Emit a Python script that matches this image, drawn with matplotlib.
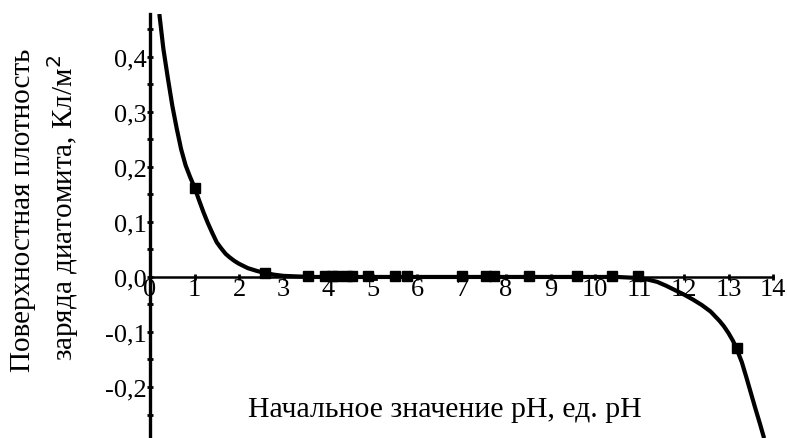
import numpy as np
import matplotlib.pyplot as plt
from matplotlib.ticker import FuncFormatter, MultipleLocator

plt.rcParams['font.family'] = ['Liberation Serif', 'DejaVu Serif']

# fitted curve (pH, charge density)
curve_ph = [0.21, 0.3, 0.4, 0.5, 0.6, 0.7, 0.8, 0.9, 1.0, 1.1, 1.2, 1.3,
            1.4, 1.5, 1.6, 1.7, 1.8, 1.9, 2.0, 2.2, 2.4, 2.6, 2.8, 3.0, 3.3,
            3.7, 5.0, 7.0, 9.0, 10.5, 11.0, 11.2, 11.4, 11.6, 11.8, 12.0,
            12.2, 12.4, 12.6, 12.8, 12.9, 13.0, 13.1, 13.18, 13.3, 13.4, 13.5,
            13.6, 13.7, 13.8]
curve_q = [0.478, 0.415, 0.362, 0.312, 0.27, 0.232, 0.203, 0.182, 0.163,
           0.14, 0.118, 0.098, 0.08, 0.063, 0.052, 0.042, 0.035, 0.029,
           0.024, 0.016, 0.011, 0.007, 0.004, 0.002, 0.001, 0.0, 0.0, 0.0,
           0.0, 0.0, -0.002, -0.005, -0.009, -0.016, -0.024, -0.032, -0.041,
           -0.051, -0.063, -0.08, -0.09, -0.102, -0.116, -0.13, -0.155,
           -0.182, -0.21, -0.238, -0.265, -0.293]

# measured points
meas_ph = [1.01, 2.58, 3.56, 3.93, 4.08, 4.2, 4.42, 4.55, 4.9, 5.5, 5.77,
           7.0, 7.55, 7.72, 8.52, 9.59, 10.39, 10.97, 13.18]
meas_q = [0.162, 0.007, 0.001, 0.001, 0.001, 0.001, 0.001, 0.001, 0.001,
          0.001, 0.001, 0.001, 0.001, 0.001, 0.001, 0.001, 0.002, 0.001, -0.13]

fig = plt.figure(figsize=(7.87, 4.39), dpi=100)
ax = fig.add_axes([150 / 787, 0, 623 / 787, 424 / 439])

ax.plot(curve_ph, curve_q, color='black', lw=3, solid_capstyle='butt')
ax.plot(meas_ph, meas_q, 's', color='black', ms=6.5)

ax.set_xlim(0, 14)
ax.set_ylim(-0.2927, 0.478)

# axes crossing at zero
ax.spines['left'].set_position(('data', 0))
ax.spines['bottom'].set_position(('data', 0))
ax.spines['top'].set_visible(False)
ax.spines['right'].set_visible(False)
ax.spines['left'].set_linewidth(2.4)
ax.spines['bottom'].set_linewidth(1.8)

ax.xaxis.set_major_locator(MultipleLocator(1))
ax.yaxis.set_major_locator(MultipleLocator(0.1))
ax.yaxis.set_minor_locator(MultipleLocator(0.05))
ax.tick_params(axis='both', which='both', direction='inout', length=4,
               width=2, labelsize=19)
ax.tick_params(axis='x', pad=-1)
ax.tick_params(axis='y', pad=0)

ax.yaxis.set_major_formatter(FuncFormatter(
    lambda v, p: ('%.1f' % v).replace('.', ',') if abs(v) > 1e-9 else '0,0'))
ax.xaxis.set_major_formatter(FuncFormatter(lambda v, p: '%d' % round(v)))

ax.set_xlabel('Начальное значение pH, ед. pH', fontsize=21.5)
ax.xaxis.set_label_coords(0.4735, 0.068)
ax.xaxis.label.set_va('center')

fig.text(23 / 787, 0.52, 'Поверхностная плотность', rotation=90,
         fontsize=21, ha='center', va='center')
fig.text(63 / 787, 0.525, 'заряда диатомита, Кл/м$^2$', rotation=90,
         fontsize=21, ha='center', va='center')

fig.savefig('out.png', dpi=100)
